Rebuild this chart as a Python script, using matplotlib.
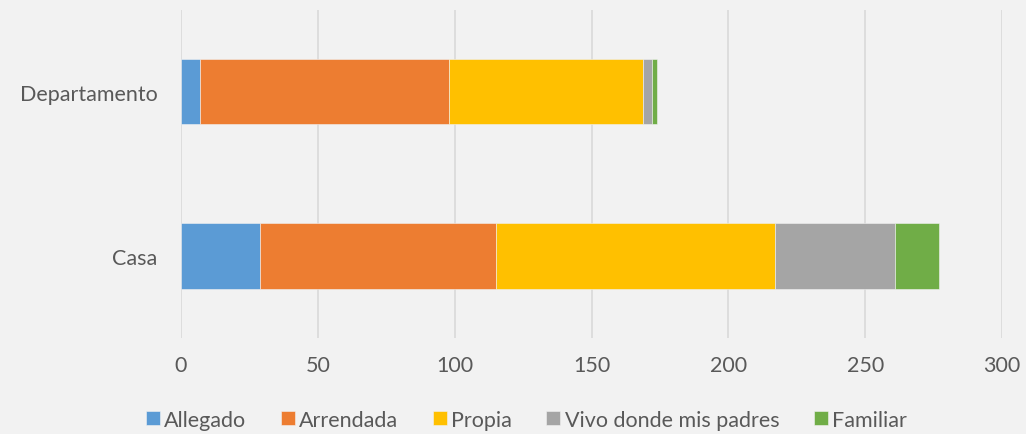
import matplotlib.pyplot as plt
import numpy as np

categories = ["Casa", "Departamento"]
series = ["Allegado", "Arrendada", "Propia", "Vivo donde mis padres", "Familiar"]
allegado = [29, 7]
arrendada = [86, 91]
propia = [102, 71]
vivo_padres = [44, 3]
familiar = [16, 2]
colors = ["#5b9bd5", "#ed7d31", "#ffc000", "#a5a5a5", "#70ad47"]
xticks = [0, 50, 100, 150, 200, 250, 300]

plt.rcParams["font.family"] = ["Lato", "DejaVu Sans"]
fig = plt.figure(figsize=(10.26, 4.35), dpi=100, facecolor="#f2f2f2")
ax = fig.add_axes([181 / 1026, 1 - 339 / 435, (1002 - 181) / 1026, (339 - 10.5) / 435])
ax.set_facecolor("#f2f2f2")

y = np.arange(len(categories))
left = np.zeros(len(categories))
for name, vals, c in zip(series, [allegado, arrendada, propia, vivo_padres, familiar], colors):
    ax.barh(y, vals, left=left, height=0.4, color=c, label=name,
            edgecolor="#f2f2f2", linewidth=0.4)
    left += np.array(vals)

ax.set_xlim(0, 300)
ax.set_ylim(-0.5, 1.5)
ax.set_xticks(xticks)
ax.set_yticks(y)
ax.set_yticklabels(categories)
ax.grid(axis="x", color="#d9d9d9", linewidth=1.2)
ax.set_axisbelow(True)
for s in ax.spines.values():
    s.set_visible(False)
ax.tick_params(length=0, labelsize=15.5, colors="#595959")
ax.tick_params(axis="x", pad=12)
ax.tick_params(axis="y", pad=17)

fig.legend(loc="lower center", bbox_to_anchor=(0.513, -0.035), ncol=5, frameon=False,
           fontsize=15.5, labelcolor="#595959", handlelength=0.65, handleheight=0.65,
           handletextpad=0.2, columnspacing=1.6)

fig.savefig("out.png", dpi=100, facecolor="#f2f2f2")
